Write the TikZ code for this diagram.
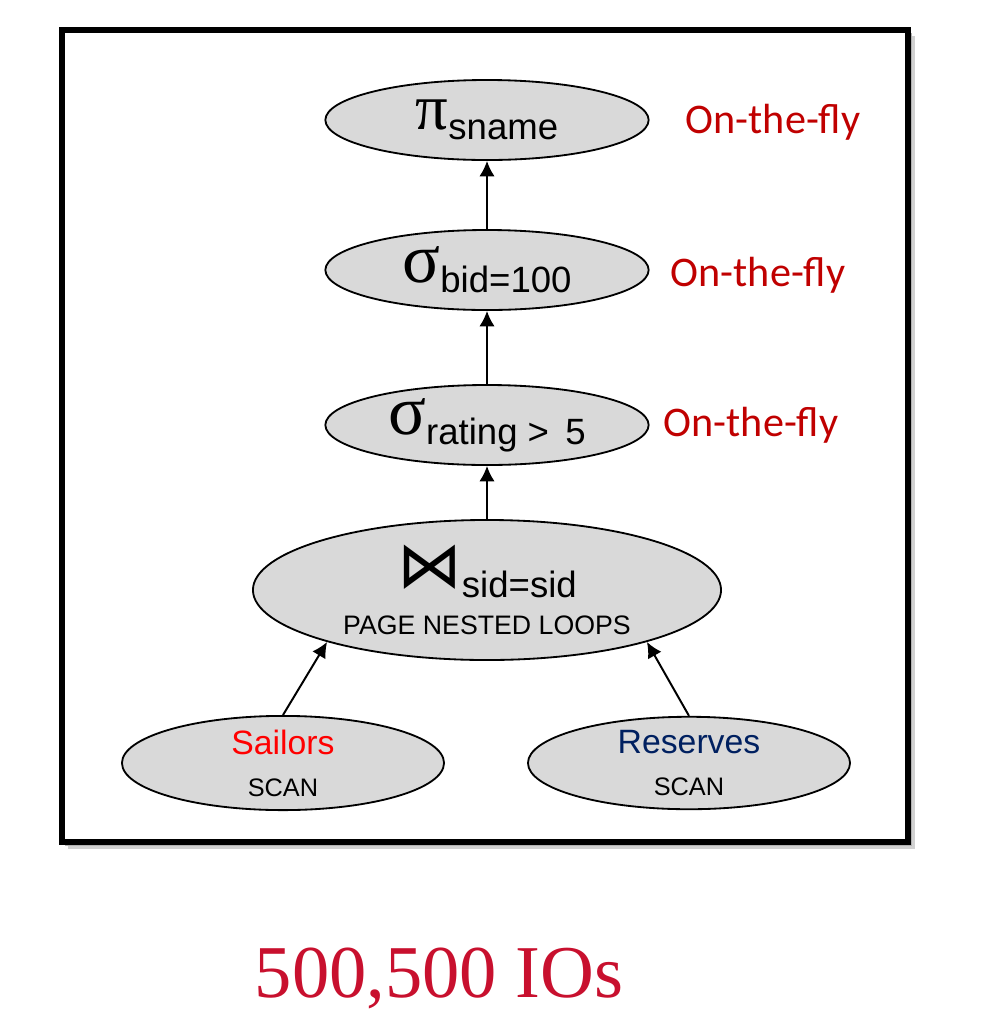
\documentclass[tikz,border=0pt]{standalone}
\usepackage{fontspec}
\setmainfont{Liberation Sans}
\newfontfamily\calibfont{Carlito}
\newfontfamily\ioserif{Liberation Serif}
\newfontfamily\symbfont{DejaVu Sans}
\usetikzlibrary{shapes.geometric, arrows.meta}

\definecolor{opgray}{RGB}{217,217,217}
\definecolor{flyred}{RGB}{192,0,0}
\definecolor{sailred}{RGB}{255,0,0}
\definecolor{resnavy}{RGB}{0,32,96}
\definecolor{iored}{RGB}{200,16,46}

\newcommand{\fsz}[1]{\fontsize{#1}{#1}\selectfont}
\newcommand{\opname}[3]{{#1#2}\raisebox{-7pt}{\fsz{26}#3}}

\tikzset{
  op/.style={ellipse, draw, line width=1.3pt, fill=opgray, inner sep=0pt, align=center},
  smallop/.style={op, minimum width=8.08cm, minimum height=2cm},
  scanop/.style={op, minimum width=8.05cm, minimum height=2.1cm},
  fly/.style={text=flyred, font=\calibfont\fsz{30}},
}

\begin{document}
\begin{tikzpicture}[x=0.025cm, y=-0.025cm, >={Latex[length=11pt,width=11pt]}]
\useasboundingbox (0,0) rectangle (990,1022);

\begin{scope}
\fill[black!18] (68,36) rectangle (915,849);
\fill[black!30] (65,33) rectangle (912,846);
\draw[line width=3.6pt, fill=white] (62,30) rectangle (908,842);
\end{scope}

\node[smallop] (pi) at (487,120) {\opname{\ioserif\fsz{46}}{π}{sname}};
\node[smallop] (selbid) at (487,270) {\opname{\ioserif\fsz{50}}{σ}{bid=100}};
\node[smallop] (selrating) at (487,425) {\opname{\ioserif\fsz{50}}{σ}{rating > \,5}};
\node[op, minimum width=11.7cm, minimum height=3.5cm] (join) at (487,590)
  {\opname{\symbfont\fsz{46}}{⋈}{sid=sid}\\[12pt] {\fsz{19}PAGE NESTED LOOPS}};
\node[scanop] (sailors) at (283,763)
  {{\fsz{24}\color{sailred}Sailors}\\[16pt] {\fsz{18}SCAN}};
\node[scanop] (reserves) at (689,763)
  {\color{resnavy}{\fsz{24}Reserves}\\[16pt] {\fsz{18}SCAN}};

\begin{scope}[->, line width=1.4pt]
\draw (selbid) -- (pi);
\draw (selrating) -- (selbid);
\draw (join) -- (selrating);
\draw (sailors.north) -- (join.198);
\draw (reserves.north) -- (join.-18);
\end{scope}

\node[fly] (fly1) at (773,122) {On-the-fly};
\node[fly] (fly2) at (758,275) {On-the-fly};
\node[fly] (fly3) at (751,425) {On-the-fly};

\node[text=iored, font=\ioserif\fsz{53}] (cost) at (439,978) {500,500 IOs};

\end{tikzpicture}
\end{document}
